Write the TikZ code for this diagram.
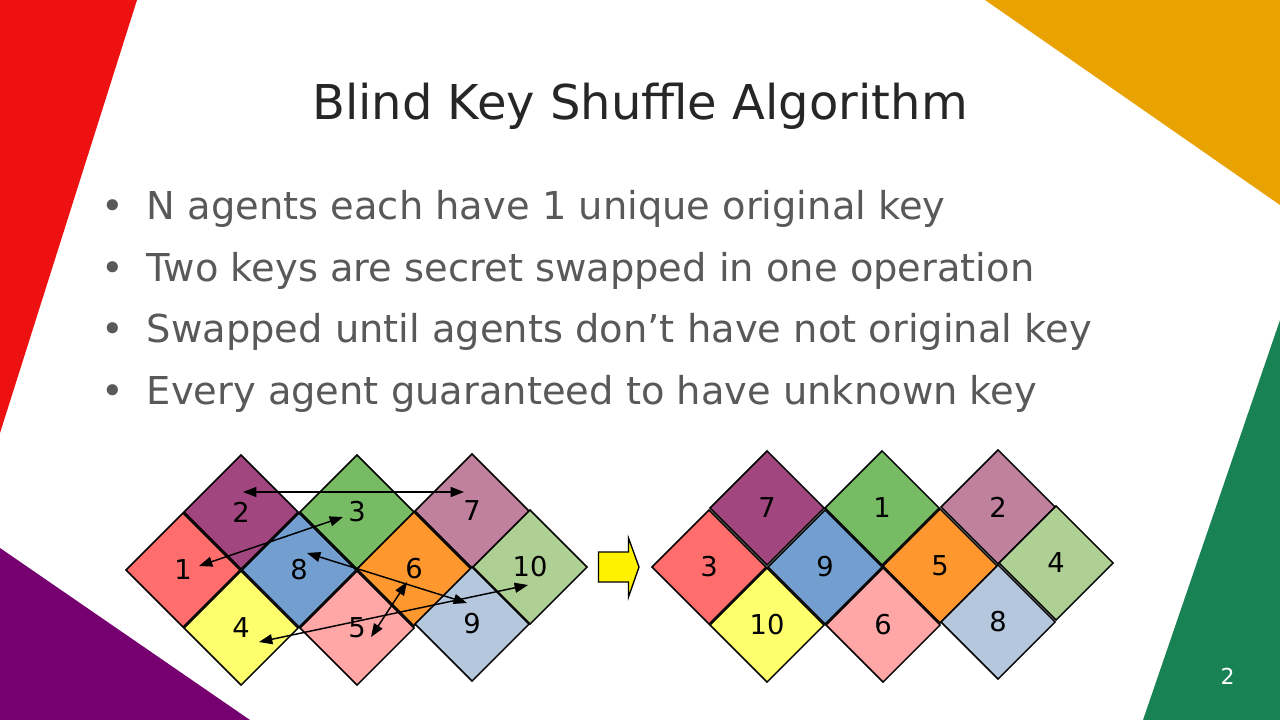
\documentclass[tikz,border=0pt]{standalone}
\usepackage{fontspec}
\setmainfont{DejaVu Sans}
\usetikzlibrary{shapes.geometric,arrows.meta}
\definecolor{bgred}{RGB}{238,17,17}
\definecolor{bgpurple}{RGB}{118,0,112}
\definecolor{bgorange}{RGB}{232,162,2}
\definecolor{bggreen}{RGB}{24,130,85}
\definecolor{titlegray}{RGB}{38,38,38}
\definecolor{textgray}{RGB}{89,89,89}
\definecolor{cRed}{HTML}{FF6D6D}
\definecolor{cPurple}{HTML}{A1467E}
\definecolor{cYellow}{HTML}{FFFF6D}
\definecolor{cBlue}{HTML}{729FCF}
\definecolor{cGreen}{HTML}{77BC65}
\definecolor{cPink}{HTML}{FFA6A6}
\definecolor{cOrange}{HTML}{FF972F}
\definecolor{cMauve}{HTML}{BF819E}
\definecolor{cLightBlue}{HTML}{B4C7DC}
\definecolor{cLightGreen}{HTML}{AFD095}
\begin{document}
\begin{tikzpicture}[x=0.75pt,y=-0.75pt,
  keybox/.style={diamond,aspect=1,draw=black,line width=1.1pt,inner sep=0pt,
    minimum size=86pt,font=\fontsize{20.5}{24}\selectfont},
  keyboxr/.style={keybox},
  swaparrow/.style={{Triangle[length=10pt,width=7.5pt]}-{Triangle[length=10pt,width=7.5pt]},line width=1.1pt},
  bullettext/.style={anchor=base west,text=textgray,font=\fontsize{28.8}{34}\selectfont,inner sep=0pt},
  bulletdot/.style={anchor=base,text=textgray,font=\fontsize{28.8}{34}\selectfont,inner sep=0pt}]
\useasboundingbox (0,0) rectangle (1280,720);
\fill[white] (0,0) rectangle (1280,720);
% corner wedges
\fill[bgred] (0,0) -- (137,0) -- (0,433) -- cycle;
\fill[bgpurple] (0,548) -- (250,720) -- (0,720) -- cycle;
\fill[bgorange] (985,0) -- (1280,0) -- (1280,205) -- cycle;
\fill[bggreen] (1280,320) -- (1280,720) -- (1143,720) -- cycle;
% title
\node[anchor=base,text=titlegray,font=\fontsize{36}{42}\selectfont,inner sep=0pt] (title) at (640,119.5) {Blind Key Shuffle Algorithm};
% bullets
\node[bulletdot] (b1) at (112.5,219.3) {•};
\node[bullettext] (t1) at (146.5,219.3) {N agents each have 1 unique original key};
\node[bulletdot] (b2) at (112.5,281) {•};
\node[bullettext] (t2) at (146.5,281) {Two keys are secret swapped in one operation};
\node[bulletdot] (b3) at (112.5,342.7) {•};
\node[bullettext] (t3) at (146.5,342.7) {Swapped until agents don’t have not original key};
\node[bulletdot] (b4) at (112.5,404.4) {•};
\node[bullettext] (t4) at (146.5,404.4) {Every agent guaranteed to have unknown key};
% left arrangement
\node[keybox,fill=cRed] (k1) at (183,570) {1};
\node[keybox,fill=cPurple] (k2) at (241,512) {2};
\node[keybox,fill=cYellow] (k4) at (241,628) {4};
\node[keybox,fill=cBlue] (k8) at (299,570) {8};
\node[keybox,fill=cGreen] (k3) at (357,512) {3};
\node[keybox,fill=cPink] (k5) at (357,628) {5};
\node[keybox,fill=cOrange] (k6) at (414,569) {6};
\node[keybox,fill=cMauve] (k7) at (472,511) {7};
\node[keybox,fill=cLightBlue] (k9) at (472,624) {9};
\node[keybox,fill=cLightGreen] (k10) at (530,567) {10};
% arrow endpoints
\coordinate (a2) at (243,492);
\coordinate (a7) at (464,492);
\coordinate (a1) at (199,566);
\coordinate (a3) at (343,517);
\coordinate (a8) at (307,553);
\coordinate (a9) at (467,603);
\coordinate (a4) at (259,642);
\coordinate (a10) at (528,585);
\coordinate (a5) at (371,637);
\coordinate (a6) at (407,582);
\draw[swaparrow] (a2) -- (a7);
\draw[swaparrow] (a1) -- (a3);
\draw[swaparrow] (a8) -- (a9);
\draw[swaparrow] (a4) -- (a10);
\draw[swaparrow] (a5) -- (a6);
% block arrow
\draw[fill=yellow,line width=1pt,line join=miter] (598.5,552) -- (628.5,552) -- (628.5,538) -- (639,567) -- (628.5,597) -- (628.5,582) -- (598.5,582) -- cycle;
% right arrangement
\node[keyboxr,fill=cRed] (r3) at (709,567) {3};
\node[keyboxr,fill=cPurple] (r7) at (767,508) {7};
\node[keyboxr,fill=cYellow] (r10) at (767,625) {10};
\node[keyboxr,fill=cBlue] (r9) at (825,567) {9};
\node[keyboxr,fill=cGreen] (r1) at (882,508) {1};
\node[keyboxr,fill=cPink] (r6) at (883,625) {6};
\node[keyboxr,fill=cOrange] (r5) at (940,566) {5};
\node[keyboxr,fill=cMauve] (r2) at (998,507) {2};
\node[keyboxr,fill=cLightBlue] (r8) at (998,622) {8};
\node[keyboxr,fill=cLightGreen] (r4) at (1056,563) {4};
% page number
\node[anchor=base,text=white,font=\fontsize{16.5}{20}\selectfont,inner sep=0pt] (pg) at (1227.5,684) {2};
\end{tikzpicture}
\end{document}
